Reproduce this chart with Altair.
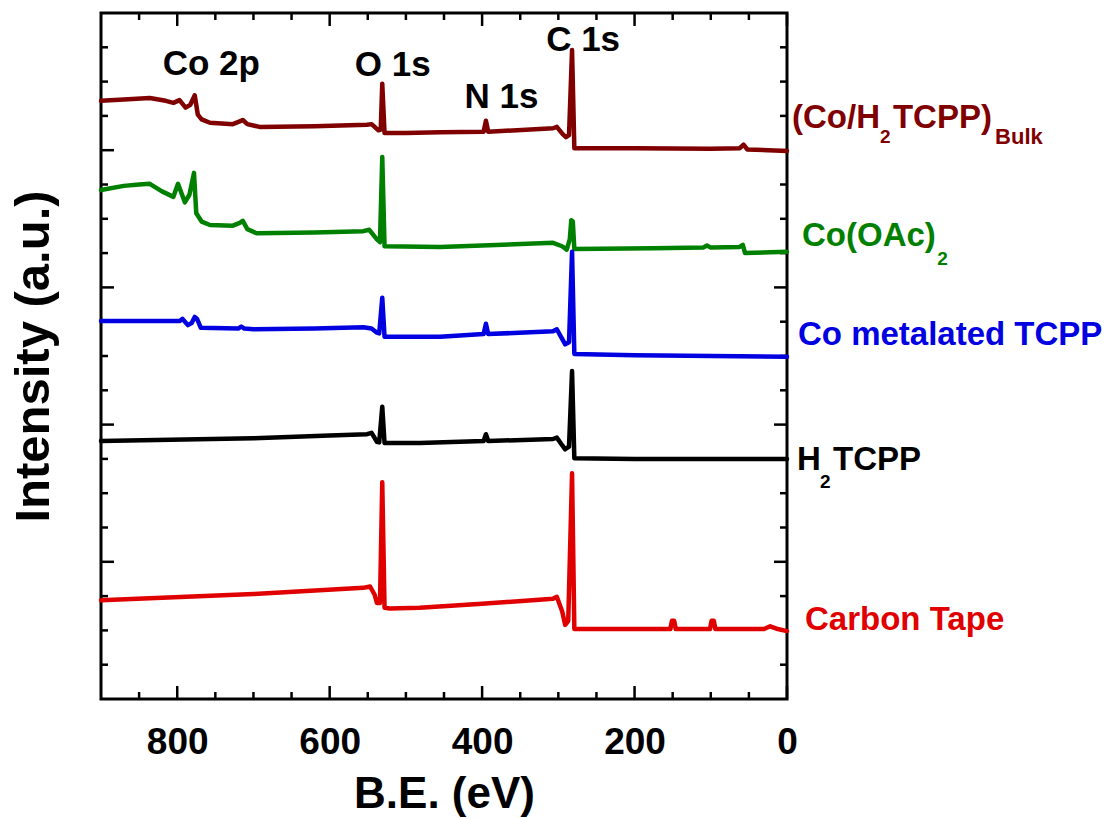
import altair as alt
import pandas as pd

# ---------------- data (binding energy in eV, intensity in a.u. with stacking offsets) -------------
SERIES = ["(Co/H2TCPP)Bulk", "Co(OAc)2", "Co metalated TCPP", "H2TCPP", "Carbon Tape"]
COLORS = ["#800000", "#008000", "#0000e0", "#000000", "#e00000"]

E_BULK = [900, 870, 836, 815, 805, 797, 789, 783, 777, 773, 768, 757, 727, 718, 714, 708, 692, 620,
          551, 545, 536, 533, 531, 528, 500, 455, 398, 395, 392, 307, 302, 294, 290, 286, 282, 279,
          200, 100, 62, 57, 52, 0]
I_BULK = [87.2, 87.4, 87.6, 87.2, 86.9, 87.3, 86.2, 86.6, 88.0, 85.2, 84.5, 84.0, 83.8, 84.2, 84.4, 83.8, 83.4, 83.5,
          83.7, 83.8, 82.9, 83.0, 89.7, 82.5, 82.5, 82.6, 82.7, 84.3, 82.7, 83.2, 83.4, 82.3, 81.9, 82.2, 94.6, 80.3,
          80.3, 80.2, 80.3, 80.8, 80.1, 79.9]

E_COAC = [900, 870, 850, 836, 820, 805, 799, 790, 784, 778, 775, 768, 757, 727, 718, 714, 708, 696, 620,
          556, 548, 538, 534, 531, 528, 455, 307, 295, 289, 285, 283, 281, 279, 176, 110, 105, 100,
          62, 58, 55, 0]
I_COAC = [74.2, 74.8, 75.0, 75.1, 74.0, 73.2, 75.1, 72.4, 73.5, 76.7, 70.8, 69.6, 69.1, 69.0, 69.4, 69.7, 68.5, 67.9, 68.0,
          68.2, 68.4, 67.0, 66.6, 79.0, 66.0, 65.9, 66.5, 66.0, 65.5, 67.0, 69.8, 69.6, 65.6, 65.7, 65.8, 66.1, 65.8,
          65.9, 66.2, 65.0, 65.2]

E_COTCPP = [900, 850, 797, 793, 786, 781, 777, 774, 769, 720, 716, 712, 700, 620, 556, 545, 538, 535, 531, 528,
            455, 398, 395, 392, 307, 302, 295, 291, 286, 282, 279, 200, 0]
I_COTCPP = [55.1, 55.1, 55.1, 55.4, 54.5, 54.8, 55.7, 55.4, 54.1, 54.0, 54.3, 54.0, 53.9, 54.0, 54.2, 54.0, 53.4, 53.3, 58.5, 52.8,
            52.8, 53.2, 54.7, 53.2, 53.6, 53.9, 52.5, 51.7, 52.0, 65.2, 50.3, 50.1, 49.9]

E_H2TCPP = [900, 700, 600, 551, 545, 538, 535, 531, 528, 482, 398, 395, 392, 307, 302, 295, 291, 286, 282, 279, 200, 0]
I_H2TCPP = [37.6, 38.0, 38.4, 38.6, 38.8, 37.5, 37.4, 42.6, 37.3, 37.3, 37.6, 38.6, 37.6, 37.9, 38.1, 37.0, 36.4, 36.8, 47.8, 35.1, 35.0, 35.0]

E_TAPE = [900, 700, 556, 547, 541, 538, 534, 531, 528, 521, 482, 400, 307, 302, 295, 291, 287, 282, 279, 200,
          153, 151, 148, 146, 101, 99, 96, 94, 30, 22, 12, 0]
I_TAPE = [14.4, 15.3, 16.2, 16.4, 15.2, 14.0, 14.0, 31.6, 13.3, 13.2, 13.3, 13.9, 14.6, 14.9, 12.8, 10.8, 11.4, 32.9, 10.2, 10.2,
          10.2, 11.4, 11.4, 10.2, 10.2, 11.4, 11.4, 10.2, 10.2, 10.6, 10.2, 9.9]

# peak annotations
PEAK_TEXT = ["Co 2p", "O 1s", "N 1s", "C 1s"]
PEAK_E = [819, 567, 423, 316]
PEAK_I = [91.0, 90.8, 86.2, 94.5]

# spectrum labels (pieces: main text and subscripts)
LAB_TEXT = ["(Co/H", "2", "TCPP)", "Bulk", "Co(OAc)", "2", "Co metalated TCPP", "H", "2", "TCPP", "Carbon Tape"]
LAB_E = [-6.6, -122, -139, -273, -19.7, -197, -14.4, -13.1, -43.3, -60.4, -23.6]
LAB_I = [83.2, 81.0, 83.2, 80.9, 66.0, 63.3, 51.6, 33.4, 30.8, 33.4, 10.1]
LAB_SIZE = [33, 19, 33, 22, 33, 19, 33, 33, 19, 33, 33]
LAB_COLOR = ["#800000", "#800000", "#800000", "#800000", "#008000", "#008000", "#0000e0",
             "#000000", "#000000", "#000000", "#e00000"]

# axis tick positions
X_MAJOR = [0, 200, 400, 600, 800]
X_MINOR = [50, 100, 150, 250, 300, 350, 450, 500, 550, 650, 700, 750, 850]
Y_MAJOR = [20, 40, 60, 80]
Y_MINOR = [5, 10, 15, 25, 30, 35, 45, 50, 55, 65, 70, 75, 85, 90, 95]

# ---------------- tables ----------------
rows = []
for name, es, vs in zip(SERIES, [E_BULK, E_COAC, E_COTCPP, E_H2TCPP, E_TAPE],
                        [I_BULK, I_COAC, I_COTCPP, I_H2TCPP, I_TAPE]):
    for k, (e, v) in enumerate(zip(es, vs)):
        rows.append({"series": name, "eV": e, "I": v, "k": k})
spec = pd.DataFrame(rows)
peaks = pd.DataFrame({"text": PEAK_TEXT, "eV": PEAK_E, "I": PEAK_I})
labels = pd.DataFrame({"text": LAB_TEXT, "eV": LAB_E, "I": LAB_I, "size": LAB_SIZE, "color": LAB_COLOR})
xmaj = pd.DataFrame({"eV": X_MAJOR})
xmin = pd.DataFrame({"eV": X_MINOR})
ymaj = pd.DataFrame({"I": Y_MAJOR})
ymin = pd.DataFrame({"I": Y_MINOR})

W = 686
H = 686
FONT = "Liberation Sans"

xscale = alt.Scale(domain=[0, 900], reverse=True, nice=False, zero=False)
yscale = alt.Scale(domain=[0, 100], nice=False, zero=False)

xaxis = alt.Axis(values=X_MAJOR, format="d", title="B.E. (eV)", labelFont=FONT, labelFontSize=37,
                 labelFontWeight="bold", labelColor="black", labelPadding=25, labelFlush=False,
                 labelOverlap=False, ticks=False, domain=False, grid=False,
                 titleFont=FONT, titleFontSize=44, titleFontWeight="bold", titleColor="black",
                 titlePadding=12)
yaxis = alt.Axis(labels=False, ticks=False, domain=False, grid=False, title="Intensity (a.u.)",
                 titleFont=FONT, titleFontSize=49, titleFontWeight="bold", titleColor="black",
                 titlePadding=43)

lines = alt.Chart(spec).mark_line(strokeWidth=4.5, strokeJoin="round", strokeCap="round").encode(
    x=alt.X("eV:Q", scale=xscale, axis=xaxis),
    y=alt.Y("I:Q", scale=yscale, axis=yaxis),
    color=alt.Color("series:N", scale=alt.Scale(domain=SERIES, range=COLORS), legend=None),
    detail="series:N",
    order="k:Q",
)

peak_txt = alt.Chart(peaks).mark_text(font=FONT, fontSize=35, fontWeight="bold", align="left",
                                      baseline="alphabetic", color="black").encode(
    x=alt.X("eV:Q", scale=xscale), y=alt.Y("I:Q", scale=yscale), text="text:N")

lab_txt = alt.Chart(labels).mark_text(font=FONT, fontWeight="bold", align="left",
                                      baseline="alphabetic").encode(
    x=alt.X("eV:Q", scale=xscale), y=alt.Y("I:Q", scale=yscale), text="text:N",
    size=alt.Size("size:Q", scale=None), color=alt.Color("color:N", scale=None))

TW = 2.5
def xticks(df, length):
    bot = alt.Chart(df).mark_rule(color="black", strokeWidth=TW).encode(
        x=alt.X("eV:Q", scale=xscale), y=alt.value(H), y2=alt.value(H - length))
    top = alt.Chart(df).mark_rule(color="black", strokeWidth=TW).encode(
        x=alt.X("eV:Q", scale=xscale), y=alt.value(0), y2=alt.value(length))
    return bot + top

def yticks(df, length):
    lft = alt.Chart(df).mark_rule(color="black", strokeWidth=TW).encode(
        y=alt.Y("I:Q", scale=yscale), x=alt.value(0), x2=alt.value(length))
    rgt = alt.Chart(df).mark_rule(color="black", strokeWidth=TW).encode(
        y=alt.Y("I:Q", scale=yscale), x=alt.value(W), x2=alt.value(W - length))
    return lft + rgt

chart = alt.layer(
    xticks(xmaj, 13), xticks(xmin, 7), yticks(ymaj, 13), yticks(ymin, 7),
    lines, peak_txt, lab_txt,
).properties(
    width=W, height=H,
    autosize=alt.AutoSizeParams(type="none"),
    padding={"left": 101, "top": 13, "right": 326, "bottom": 120},
    background="white",
).configure_view(stroke="black", strokeWidth=3)

chart.save("out.html", embed_options={"renderer": "svg", "actions": False})
